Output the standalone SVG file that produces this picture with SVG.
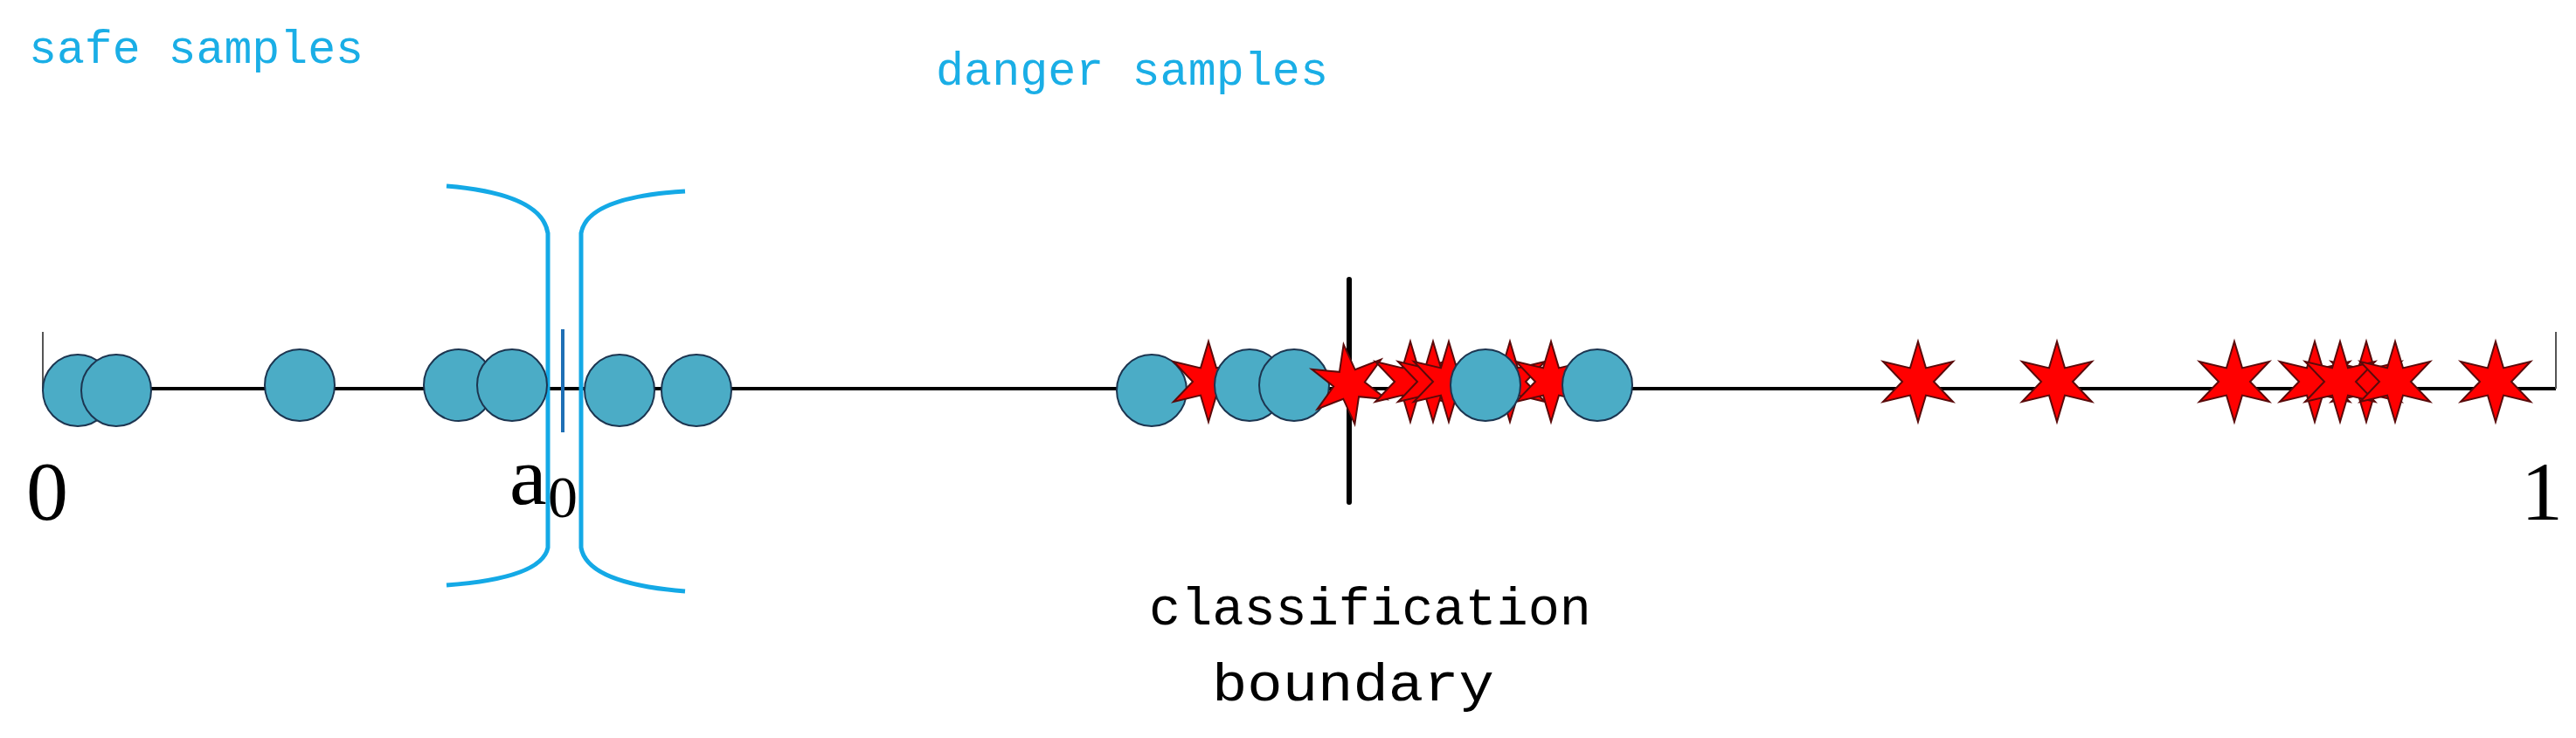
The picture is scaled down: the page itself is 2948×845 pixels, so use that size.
<svg xmlns="http://www.w3.org/2000/svg" width="2948" height="845" viewBox="0 0 2948 845">
<style>
.c{fill:#4bacc6;stroke:#1c3550;stroke-width:2}
.s{fill:#ff0000;stroke:#5a0a0a;stroke-width:2}
.lbl{font-family:"Liberation Mono",monospace;fill:#1aaee6;font-size:54px}
.cb{font-family:"Liberation Mono",monospace;fill:#000;font-size:62px}
.num{font-family:"Liberation Serif",serif;fill:#000}
.br{fill:none;stroke:#14a9e6;stroke-width:5}
</style>
<defs>
<polygon id="star" points="0,-46 9,-15.6 40,-23 18,0 40,23 9,15.6 0,46 -9,15.6 -40,23 -18,0 -40,-23 -9,-15.6"/>
</defs>
<rect width="2948" height="845" fill="#fff"/>
<g id="connectors">
<line x1="49" y1="445" x2="2925" y2="445" stroke="#000" stroke-width="4"/>
<line x1="49" y1="380" x2="49" y2="445" stroke="#555" stroke-width="2"/>
<line x1="2925" y1="380" x2="2925" y2="445" stroke="#555" stroke-width="2"/>
<line x1="644" y1="377" x2="644" y2="495" stroke="#1f6fb5" stroke-width="4"/>
<path class="br" d="M511,213 Q620,222 627,267 L627,627 Q620,662 511,670"/>
<path class="br" d="M784,219 Q672,226 665,267 L665,627 Q672,668 784,677"/>
</g>
<g id="safe-samples">
<ellipse class="c" cx="89" cy="447" rx="40" ry="41"/>
<ellipse class="c" cx="133" cy="447" rx="40" ry="41"/>
<ellipse class="c" cx="343" cy="441" rx="40" ry="41"/>
<ellipse class="c" cx="525" cy="441" rx="40" ry="41"/>
<ellipse class="c" cx="586" cy="441" rx="40" ry="41"/>
<ellipse class="c" cx="709" cy="447" rx="40" ry="41"/>
<ellipse class="c" cx="797" cy="447" rx="40" ry="41"/>
</g>
<g id="boundary-region">
<ellipse class="c" cx="1318" cy="447" rx="40" ry="41"/>
<use href="#star" class="s" x="1383" y="437"/>
<ellipse class="c" cx="1430" cy="441" rx="40" ry="41"/>
<ellipse class="c" cx="1481" cy="441" rx="40" ry="41"/>
<line x1="1544" y1="320" x2="1544" y2="575" stroke="#000" stroke-width="6" stroke-linecap="round"/>
<use href="#star" class="s" transform="translate(1544,440) rotate(-8)"/>
<use href="#star" class="s" x="1614" y="437"/>
<use href="#star" class="s" x="1640" y="437"/>
<use href="#star" class="s" x="1658" y="437"/>
<use href="#star" class="s" x="1728" y="437"/>
<use href="#star" class="s" x="1775" y="437"/>
<ellipse class="c" cx="1700" cy="441" rx="40" ry="41"/>
<ellipse class="c" cx="1828" cy="441" rx="40" ry="41"/>
</g>
<g id="danger-samples">
<use href="#star" class="s" x="2195" y="437"/>
<use href="#star" class="s" x="2354" y="437"/>
<use href="#star" class="s" x="2557" y="437"/>
<use href="#star" class="s" x="2708" y="437"/>
<use href="#star" class="s" x="2649" y="437"/>
<use href="#star" class="s" x="2678" y="437"/>
<use href="#star" class="s" x="2741" y="437"/>
<use href="#star" class="s" x="2856" y="437"/>
</g>
<g id="labels">
<text class="lbl" x="33" y="72" textLength="383" lengthAdjust="spacingAndGlyphs">safe samples</text>
<text class="lbl" x="1071" y="97" textLength="449" lengthAdjust="spacingAndGlyphs">danger samples</text>
<text class="cb" x="1315" y="715" textLength="506" lengthAdjust="spacingAndGlyphs">classification</text>
<text class="cb" x="1387" y="802" textLength="323" lengthAdjust="spacingAndGlyphs">boundary</text>
<text class="num" x="30" y="595" font-size="96">0</text>
<text class="num" x="583" y="577" font-size="96">a</text>
<text class="num" x="627" y="592" font-size="68">0</text>
<text class="num" x="2885" y="595" font-size="96">1</text>
</g>
</svg>
